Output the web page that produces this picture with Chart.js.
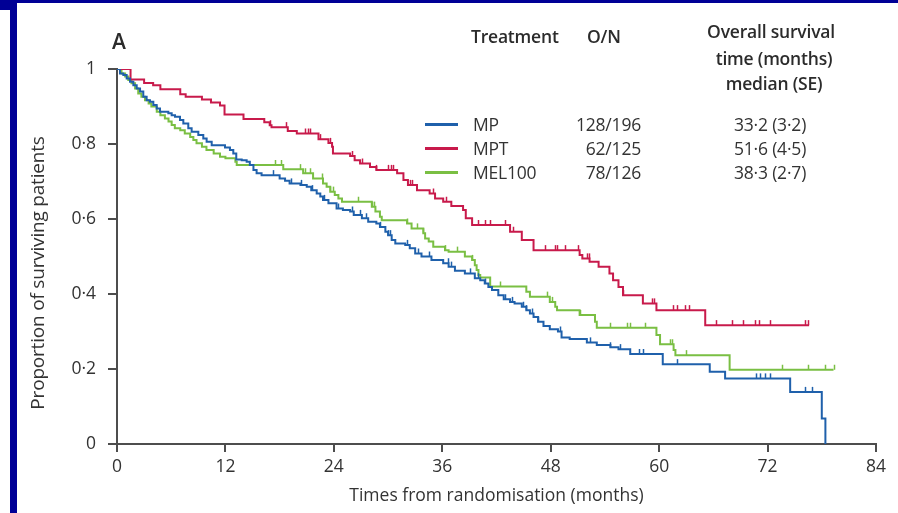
<!DOCTYPE html>
<html>
<head>
<meta charset="utf-8">
<script src="https://cdn.jsdelivr.net/npm/chart.js@4.4.1/dist/chart.umd.min.js"></script>
<style>
  body { margin: 0; background: #fff; }
  #wrap { position: relative; width: 898px; height: 513px; overflow: hidden; font-family: "Open Sans", sans-serif; color: #333; }
  #chart { position: absolute; left: 0; top: 0; }
  .frame { position: absolute; background: #000096; }
  .t { position: absolute; white-space: nowrap; font-size: 17.5px; height: 24px; line-height: 24px; letter-spacing: -0.2px; }
  .h { font-weight: 600; color: #2b2b2b; }
  .key { position: absolute; height: 3px; width: 33px; }
  #ytitle { position: absolute; left: 37px; top: 273px; font-size: 19px; white-space: nowrap; color: #333;
            transform: translate(-50%, -50%) rotate(-90deg); letter-spacing: -0.2px; }
</style>
</head>
<body>
<div id="wrap">
  <canvas id="chart" width="898" height="513"></canvas>

  <!-- dark blue slide frame -->
  <div class="frame" style="left:0;top:0;width:898px;height:3px"></div>
  <div class="frame" style="left:0;top:0;width:17px;height:10px"></div>
  <div class="frame" style="left:10px;top:0;width:7px;height:513px"></div>

  <div id="ytitle">Proportion of surviving patients</div>

  <div class="t h" style="left:112px;top:29px;font-size:21px;">A</div>

  <div class="t h" style="left:471px;top:24px;">Treatment</div>
  <div class="t h" style="left:587px;top:24px;">O/N</div>
  <div class="t h" style="left:703px;top:19px;width:136px;text-align:center;">Overall survival</div>
  <div class="t h" style="left:706px;top:46px;width:136px;text-align:center;">time (months)</div>
  <div class="t h" style="left:706px;top:71px;width:136px;text-align:center;">median (SE)</div>

  <div id="legend"></div>
</div>

<script>
// Kaplan-Meier steps: time (months) and proportion surviving
const mpTimes = [0, 0.33, 0.7, 1.07, 1.44, 1.81, 2.18, 2.55, 2.91, 3.28, 3.65, 4.02, 4.39, 4.76, 5.68, 6.05, 6.42, 6.97, 7.34, 7.89, 8.26, 9.0, 9.55, 9.92, 10.48, 11.95, 12.5, 12.87, 13.2, 13.8, 14.35, 14.7, 15.1, 15.45, 16.0, 18.0, 18.6, 19.1, 20.3, 21.0, 21.5, 22.1, 22.5, 22.8, 23.4, 24.3, 25.0, 25.8, 26.2, 27.1, 27.8, 28.7, 29.1, 29.7, 30.0, 30.4, 30.8, 31.9, 32.4, 33.0, 33.7, 34.8, 36.1, 36.7, 37.4, 38.5, 39.6, 40.2, 40.7, 41.1, 41.5, 42.2, 42.8, 43.5, 44.0, 44.8, 45.3, 45.7, 46.1, 46.6, 47.2, 47.9, 48.8, 49.2, 50.1, 52.0, 53.1, 54.6, 55.5, 56.8, 60.4, 65.6, 67.3, 74.5, 78.0, 78.4];
const mpSurv  = [1, 0.988, 0.984, 0.975, 0.966, 0.957, 0.948, 0.94, 0.926, 0.917, 0.913, 0.904, 0.895, 0.886, 0.882, 0.877, 0.873, 0.864, 0.855, 0.842, 0.833, 0.824, 0.815, 0.806, 0.797, 0.791, 0.784, 0.775, 0.759, 0.757, 0.753, 0.744, 0.731, 0.722, 0.717, 0.708, 0.702, 0.695, 0.691, 0.686, 0.677, 0.668, 0.66, 0.651, 0.642, 0.628, 0.624, 0.62, 0.611, 0.602, 0.593, 0.588, 0.579, 0.566, 0.557, 0.544, 0.535, 0.531, 0.522, 0.508, 0.5, 0.491, 0.482, 0.473, 0.462, 0.455, 0.442, 0.437, 0.428, 0.419, 0.411, 0.397, 0.386, 0.379, 0.375, 0.366, 0.357, 0.348, 0.339, 0.326, 0.315, 0.306, 0.3, 0.284, 0.28, 0.271, 0.264, 0.258, 0.253, 0.24, 0.213, 0.193, 0.175, 0.139, 0.068, 0];
const mpCensor = [17.3, 19.3, 20.4, 21.6, 22.9, 24.5, 26.0, 26.9, 27.6, 29.1, 30.0, 30.2, 32.1, 33.3, 34.5, 36.6, 37.0, 39.1, 40.0, 40.7, 42.9, 43.7, 44.9, 45.3, 45.9, 46.6, 49.0, 52.3, 54.6, 55.7, 57.8, 58.2, 62.0, 70.7, 71.2, 71.7, 72.3, 76.1, 76.9];

const mptTimes = [0, 1.5, 3.0, 4.0, 4.8, 7.0, 7.6, 9.4, 10.4, 11.4, 11.9, 14.0, 16.3, 16.9, 17.1, 18.9, 19.9, 22.3, 23.4, 23.8, 23.9, 25.8, 26.3, 26.9, 28.0, 28.7, 31.0, 31.7, 32.2, 33.2, 34.6, 35.2, 36.1, 37.0, 38.3, 38.6, 39.3, 43.5, 44.8, 46.1, 51.2, 51.5, 52.3, 53.3, 54.5, 54.9, 55.5, 56.0, 58.2, 59.7, 65.1, 76.6];
const mptSurv  = [1, 0.972, 0.963, 0.957, 0.946, 0.933, 0.926, 0.919, 0.911, 0.903, 0.879, 0.867, 0.858, 0.85, 0.845, 0.835, 0.828, 0.813, 0.803, 0.793, 0.775, 0.768, 0.757, 0.748, 0.739, 0.731, 0.722, 0.704, 0.691, 0.677, 0.668, 0.655, 0.646, 0.635, 0.624, 0.602, 0.584, 0.566, 0.544, 0.517, 0.504, 0.495, 0.486, 0.473, 0.455, 0.437, 0.419, 0.397, 0.375, 0.357, 0.317, 0.317];
const mptCensor = [16.9, 18.7, 20.8, 21.1, 21.4, 22.5, 23.6, 26.0, 27.1, 28.7, 30.0, 30.3, 30.5, 32.4, 32.6, 35.0, 36.4, 40.0, 40.7, 41.3, 42.9, 43.8, 47.4, 48.5, 48.7, 49.6, 51.0, 52.0, 52.2, 56.0, 59.2, 59.4, 61.5, 62.0, 62.9, 63.3, 66.3, 68.1, 69.3, 70.6, 71.0, 72.3, 76.1, 76.5];

const melTimes = [0, 0.5, 0.9, 1.25, 1.6, 2.0, 2.35, 2.7, 3.1, 3.5, 3.8, 4.4, 4.8, 5.3, 5.7, 6.05, 6.4, 7.0, 7.5, 8.1, 8.45, 8.8, 9.4, 9.9, 10.7, 11.4, 12.0, 13.1, 13.25, 18.4, 20.6, 21.7, 22.8, 23.2, 23.6, 24.1, 24.5, 24.9, 28.2, 28.6, 29.1, 29.3, 32.1, 32.6, 33.9, 34.1, 34.5, 35.0, 36.3, 36.7, 38.5, 39.3, 39.6, 39.8, 40.0, 40.2, 41.3, 45.3, 45.7, 47.9, 48.5, 48.7, 51.2, 52.9, 53.1, 59.7, 60.1, 61.6, 61.8, 67.8, 79.3];
const melSurv  = [1, 0.988, 0.98, 0.971, 0.962, 0.948, 0.935, 0.926, 0.917, 0.908, 0.9, 0.886, 0.877, 0.868, 0.86, 0.851, 0.842, 0.837, 0.828, 0.819, 0.811, 0.802, 0.793, 0.784, 0.775, 0.766, 0.762, 0.753, 0.744, 0.733, 0.722, 0.708, 0.695, 0.686, 0.673, 0.664, 0.655, 0.646, 0.633, 0.62, 0.606, 0.597, 0.588, 0.575, 0.562, 0.548, 0.54, 0.526, 0.517, 0.513, 0.5, 0.491, 0.477, 0.464, 0.451, 0.444, 0.42, 0.406, 0.393, 0.379, 0.366, 0.357, 0.344, 0.326, 0.31, 0.291, 0.266, 0.251, 0.237, 0.198, 0.198];
const melCensor = [17.5, 18.2, 20.3, 20.8, 21.4, 22.7, 23.6, 23.9, 26.7, 28.2, 28.4, 32.1, 33.2, 33.9, 36.3, 37.6, 39.3, 42.4, 47.6, 48.1, 51.2, 54.6, 56.4, 56.8, 58.4, 61.2, 61.4, 63.0, 73.6, 76.5, 78.4, 79.3];

// legend table
const groups = ['MP', 'MPT', 'MEL100'];
const oN = ['128/196', '62/125', '78/126'];
const medians = ['33·2 (3·2)', '51·6 (4·5)', '38·3 (2·7)'];
const colours = ['#1f60ab', '#c81a4b', '#7abf43'];

const xTicks = [0, 12, 24, 36, 48, 60, 72, 84];
const yTickLabels = { 0: '0', 0.2: '0·2', 0.4: '0·4', 0.6: '0·6', 0.8: '0·8', 1: '1' };

// build legend rows
let legendHtml = '';
groups.forEach(function (g, i) {
  const cy = 124 + i * 24;
  legendHtml += '<div class="key" style="left:425px;top:' + (cy - 1) + 'px;background:' + colours[i] + '"></div>';
  legendHtml += '<div class="t" style="left:473px;top:' + (cy - 12) + 'px">' + g + '</div>';
  legendHtml += '<div class="t" style="left:540px;width:101px;text-align:right;top:' + (cy - 12) + 'px">' + oN[i] + '</div>';
  legendHtml += '<div class="t" style="left:734px;top:' + (cy - 12) + 'px">' + medians[i] + '</div>';
});
document.getElementById('legend').innerHTML = legendHtml;

function toPoints(times, surv) {
  return times.map(function (t, i) { return { x: t, y: surv[i] }; });
}

function survAt(times, surv, t) {
  let s = surv[0];
  for (let i = 0; i < times.length; i++) {
    if (times[i] <= t) s = surv[i];
  }
  return s;
}

const censorSets = [
  { times: mpTimes, surv: mpSurv, censor: mpCensor },
  { times: mptTimes, surv: mptSurv, censor: mptCensor },
  { times: melTimes, surv: melSurv, censor: melCensor }
];

// small upward ticks for censored patients
const censorTicks = {
  id: 'censorTicks',
  afterDatasetsDraw(chart) {
    const ctx = chart.ctx;
    const xs = chart.scales.x, ys = chart.scales.y;
    ctx.save();
    ctx.lineWidth = 1.5;
    censorSets.forEach(function (set, i) {
      ctx.strokeStyle = colours[i];
      set.censor.forEach(function (t) {
        const px = Math.round(xs.getPixelForValue(t)) + 0.5;
        const py = ys.getPixelForValue(survAt(set.times, set.surv, t));
        ctx.beginPath();
        ctx.moveTo(px, py);
        ctx.lineTo(px, py - 5);
        ctx.stroke();
      });
    });
    ctx.restore();
  }
};

const axisColour = '#4d4d4d';
const tickFont = { family: 'Open Sans', size: 17.5 };

new Chart(document.getElementById('chart'), {
  type: 'line',
  data: {
    datasets: [
      { label: groups[0], data: toPoints(mpTimes, mpSurv), borderColor: colours[0] },
      { label: groups[1], data: toPoints(mptTimes, mptSurv), borderColor: colours[1] },
      { label: groups[2], data: toPoints(melTimes, melSurv), borderColor: colours[2] }
    ]
  },
  options: {
    responsive: false,
    animation: false,
    layout: { padding: { left: 0, top: 69, right: 22, bottom: 0 } },
    elements: {
      line: { stepped: true, borderWidth: 2, fill: false, tension: 0 },
      point: { radius: 0, hoverRadius: 0 }
    },
    plugins: { legend: { display: false }, tooltip: { enabled: false } },
    scales: {
      x: {
        type: 'linear',
        min: 0, max: 84,
        afterBuildTicks(scale) { scale.ticks = xTicks.map(function (v) { return { value: v }; }); },
        afterFit(scale) { scale.height = 69; },
        border: { color: axisColour, width: 2 },
        grid: { drawOnChartArea: false, tickLength: 8, color: axisColour, lineWidth: 2 },
        ticks: { color: '#333', font: tickFont, padding: 5, maxRotation: 0 },
        title: {
          display: true, text: 'Times from randomisation (months)',
          color: '#333', font: { family: 'Open Sans', size: 17.5 }, padding: { top: 0, bottom: 6 }
        }
      },
      y: {
        min: 0, max: 1,
        ticks: {
          stepSize: 0.2, color: '#333', font: tickFont, padding: 12,
          callback: function (v) { return yTickLabels[Math.round(v * 10) / 10]; }
        },
        afterFit(scale) { scale.width = 117; },
        border: { color: axisColour, width: 2 },
        grid: { drawOnChartArea: false, tickLength: 9, color: axisColour, lineWidth: 2 }
      }
    }
  },
  plugins: [censorTicks]
});
</script>
</body>
</html>
